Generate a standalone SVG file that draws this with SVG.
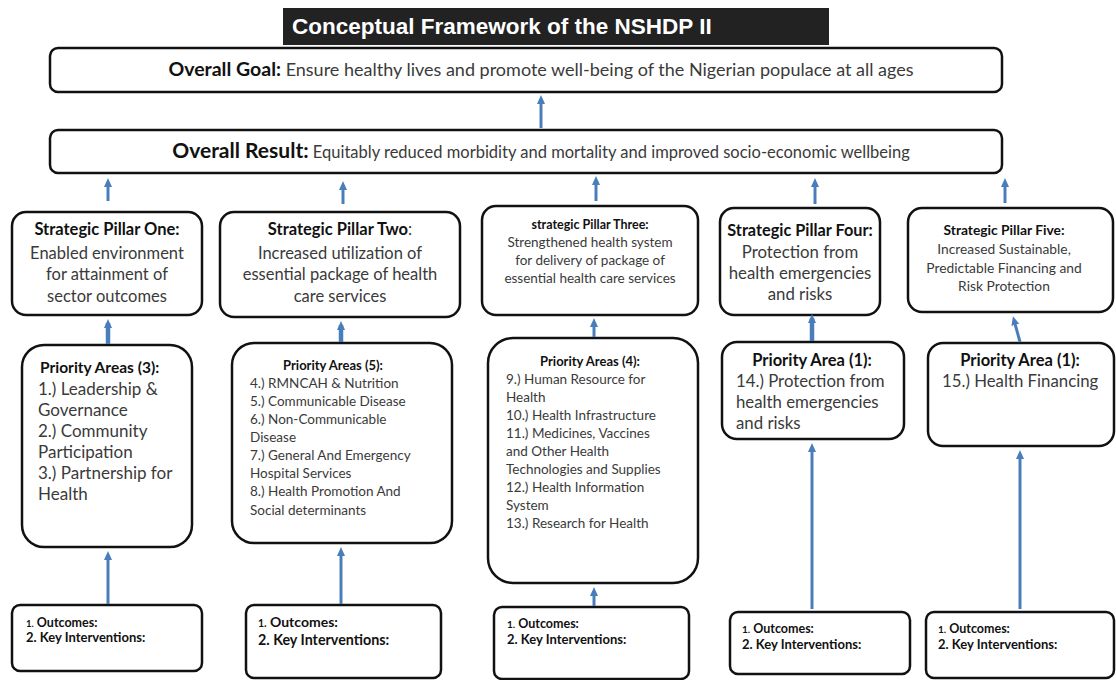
<svg xmlns="http://www.w3.org/2000/svg" width="1116" height="680" viewBox="0 0 1116 680">
<style>
.box{fill:#fff;stroke:#111;stroke-width:2.5}
.t{font-family:Lato,"Liberation Sans",sans-serif;fill:#3a3a3a}
.b{font-weight:bold;fill:#111}
.c{text-anchor:middle}
.con{stroke:#4a7ebb;stroke-width:3;fill:none}
.thick{stroke-width:4.5}
</style>
<defs>
<marker id="ah" markerUnits="userSpaceOnUse" markerWidth="10" markerHeight="10" refX="5" refY="5" orient="auto">
<path d="M0,1 L9,5 L0,9 Z" fill="#4a7ebb"/>
</marker>
</defs>
<g id="title">
<rect x="283" y="8" width="546" height="37" fill="#222"/>
<text x="292" y="34" font-family="'Liberation Sans',Arial,sans-serif" font-weight="bold" font-size="22.5" fill="#fff">Conceptual Framework of the NSHDP II</text>
</g>
<g id="goal">
<rect class="box" x="50" y="48" width="952" height="44" rx="8"/>
<text class="t c" x="541" y="76" font-size="18"><tspan class="b" font-size="19.5">Overall Goal:</tspan> Ensure healthy lives and promote well-being of the Nigerian populace at all ages</text>
</g>
<g id="result">
<rect class="box" x="50" y="130" width="952" height="43" rx="8"/>
<text class="t c" x="541" y="158" font-size="16.5"><tspan class="b" font-size="21">Overall Result:</tspan> Equitably reduced morbidity and mortality and improved socio-economic wellbeing</text>
</g>
<g id="pillar1">
<rect class="box" x="12" y="212" width="190" height="103" rx="14"/>
<text class="t c" x="107" y="235" font-size="16.5"><tspan class="b">Strategic Pillar One:</tspan><tspan x="107" y="259">Enabled environment</tspan><tspan x="107" y="280">for attainment of</tspan><tspan x="107" y="302">sector outcomes</tspan></text>
</g>
<g id="pillar2">
<rect class="box" x="220" y="212" width="240" height="105" rx="14"/>
<text class="t c" x="340" y="235" font-size="16.5"><tspan class="b">Strategic Pillar Two</tspan>:<tspan x="340" y="259">Increased utilization of</tspan><tspan x="340" y="280">essential package of health</tspan><tspan x="340" y="302">care services</tspan></text>
</g>
<g id="pillar3">
<rect class="box" x="482" y="206" width="216" height="109" rx="14"/>
<text class="t c" x="590" y="229" font-size="13.5"><tspan class="b" font-size="12.5">strategic Pillar Three:</tspan><tspan x="590" y="247">Strengthened  health system</tspan><tspan x="590" y="265">for delivery of package of</tspan><tspan x="590" y="283">essential health care services</tspan></text>
</g>
<g id="pillar4">
<rect class="box" x="720" y="208" width="160" height="107" rx="14"/>
<text class="t c" x="800" y="236" font-size="16.8"><tspan class="b" font-size="16.3">Strategic Pillar Four:</tspan><tspan x="800" y="258">Protection from</tspan><tspan x="800" y="279">health emergencies</tspan><tspan x="800" y="300">and risks</tspan></text>
</g>
<g id="pillar5">
<rect class="box" x="908" y="208" width="205" height="104" rx="14"/>
<text class="t c" x="1004" y="235" font-size="13.8"><tspan class="b">Strategic Pillar Five:</tspan><tspan x="1004" y="254">Increased Sustainable,</tspan><tspan x="1004" y="273">Predictable Financing and</tspan><tspan x="1004" y="291">Risk Protection</tspan></text>
</g>
<g id="priority1">
<rect class="box" x="22" y="345" width="170" height="202" rx="22"/>
<text class="t" x="40" y="373" font-size="17"><tspan class="b" font-size="15.5">Priority Areas (3):</tspan><tspan x="38" y="395">1.) Leadership &amp;</tspan><tspan x="38" y="416">Governance</tspan><tspan x="38" y="437">2.) Community</tspan><tspan x="38" y="458">Participation</tspan><tspan x="38" y="479">3.) Partnership for</tspan><tspan x="38" y="500">Health</tspan></text>
</g>
<g id="priority2">
<rect class="box" x="232" y="343" width="220" height="200" rx="22"/>
<text class="t" x="250" y="388" font-size="13.5"><tspan class="b c" x="333" y="370" font-size="13">Priority Areas (5):</tspan><tspan x="250" y="388">4.) RMNCAH &amp; Nutrition</tspan><tspan x="250" y="406">5.) Communicable  Disease</tspan><tspan x="250" y="424">6.) Non-Communicable</tspan><tspan x="250" y="442">Disease</tspan><tspan x="250" y="460">7.) General And  Emergency</tspan><tspan x="250" y="478">Hospital Services</tspan><tspan x="250" y="496">8.) Health Promotion  And</tspan><tspan x="250" y="515">Social determinants</tspan></text>
</g>
<g id="priority3">
<rect class="box" x="488" y="338" width="210" height="245" rx="25"/>
<text class="t" x="506" y="384" font-size="13.5"><tspan class="b c" x="590" y="366" font-size="13">Priority Areas (4):</tspan><tspan x="506" y="384">9.) Human Resource for</tspan><tspan x="506" y="402">Health</tspan><tspan x="506" y="420">10.) Health Infrastructure</tspan><tspan x="506" y="438">11.) Medicines, Vaccines</tspan><tspan x="506" y="456">and Other Health</tspan><tspan x="506" y="474">Technologies and Supplies</tspan><tspan x="506" y="492">12.) Health Information</tspan><tspan x="506" y="510">System</tspan><tspan x="506" y="528">13.) Research for Health</tspan></text>
</g>
<g id="priority4">
<rect class="box" x="722" y="342" width="182" height="97" rx="15"/>
<text class="t" x="736" y="387" font-size="16.8"><tspan class="b c" x="812" y="366" font-size="16.5">Priority Area (1):</tspan><tspan x="736" y="387">14.)  Protection from</tspan><tspan x="736" y="408">health emergencies</tspan><tspan x="736" y="429">and risks</tspan></text>
</g>
<g id="priority5">
<rect class="box" x="928" y="343" width="186" height="103" rx="15"/>
<text class="t" x="942" y="387" font-size="16.8"><tspan class="b c" x="1020" y="366" font-size="16.5">Priority Area (1):</tspan><tspan x="942" y="387">15.)  Health Financing</tspan></text>
</g>
<g id="outcomes1">
<rect class="box" x="12" y="605" width="190" height="66" rx="8"/>
<text class="t b" x="26" y="627" font-size="12.5"><tspan font-size="9.5">1.</tspan> Outcomes:<tspan x="26" y="642" font-size="13">2. Key Interventions:</tspan></text>
</g>
<g id="outcomes2">
<rect class="box" x="246" y="605" width="195" height="73" rx="8"/>
<text class="t b" x="258" y="627" font-size="14"><tspan font-size="10.5">1.</tspan> Outcomes:<tspan x="258" y="645" font-size="14.3">2. Key Interventions:</tspan></text>
</g>
<g id="outcomes3">
<rect class="box" x="494" y="607" width="195" height="72" rx="8"/>
<text class="t b" x="507" y="628" font-size="12.5"><tspan font-size="10">1.</tspan> Outcomes:<tspan x="507" y="644" font-size="13">2. Key Interventions:</tspan></text>
</g>
<g id="outcomes4">
<rect class="box" x="730" y="612" width="180" height="62" rx="8"/>
<text class="t b" x="742" y="633" font-size="12.5"><tspan font-size="10">1.</tspan> Outcomes:<tspan x="742" y="649" font-size="13">2. Key Interventions:</tspan></text>
</g>
<g id="outcomes5">
<rect class="box" x="926" y="612" width="188" height="66" rx="8"/>
<text class="t b" x="938" y="633" font-size="12.5"><tspan font-size="10">1.</tspan> Outcomes:<tspan x="938" y="649" font-size="13">2. Key Interventions:</tspan></text>
</g>
<g id="connectors">
<line class="con" x1="541" y1="128" x2="541" y2="99" marker-end="url(#ah)"/>
<line class="con" x1="108" y1="201" x2="108" y2="182" marker-end="url(#ah)"/>
<line class="con" x1="343" y1="204" x2="343" y2="185" marker-end="url(#ah)"/>
<line class="con" x1="596" y1="201" x2="596" y2="180" marker-end="url(#ah)"/>
<line class="con" x1="815" y1="204" x2="815" y2="182" marker-end="url(#ah)"/>
<line class="con" x1="1005" y1="203" x2="1005" y2="182" marker-end="url(#ah)"/>
<line class="con thick" x1="108" y1="344" x2="108" y2="323" marker-end="url(#ah)"/>
<line class="con thick" x1="341" y1="342" x2="341" y2="325" marker-end="url(#ah)"/>
<line class="con" x1="594" y1="337" x2="594" y2="322" marker-end="url(#ah)"/>
<line class="con thick" x1="812" y1="341" x2="812" y2="318" marker-end="url(#ah)"/>
<line class="con" x1="1020" y1="342" x2="1014" y2="320" marker-end="url(#ah)"/>
<line class="con" x1="108" y1="604" x2="108" y2="555" marker-end="url(#ah)"/>
<line class="con" x1="341" y1="604" x2="341" y2="551" marker-end="url(#ah)"/>
<line class="con" x1="594" y1="606" x2="594" y2="591" marker-end="url(#ah)"/>
<line class="con" x1="812" y1="609" x2="812" y2="447" marker-end="url(#ah)"/>
<line class="con" x1="1020" y1="609" x2="1020" y2="454" marker-end="url(#ah)"/>
</g>
</svg>
